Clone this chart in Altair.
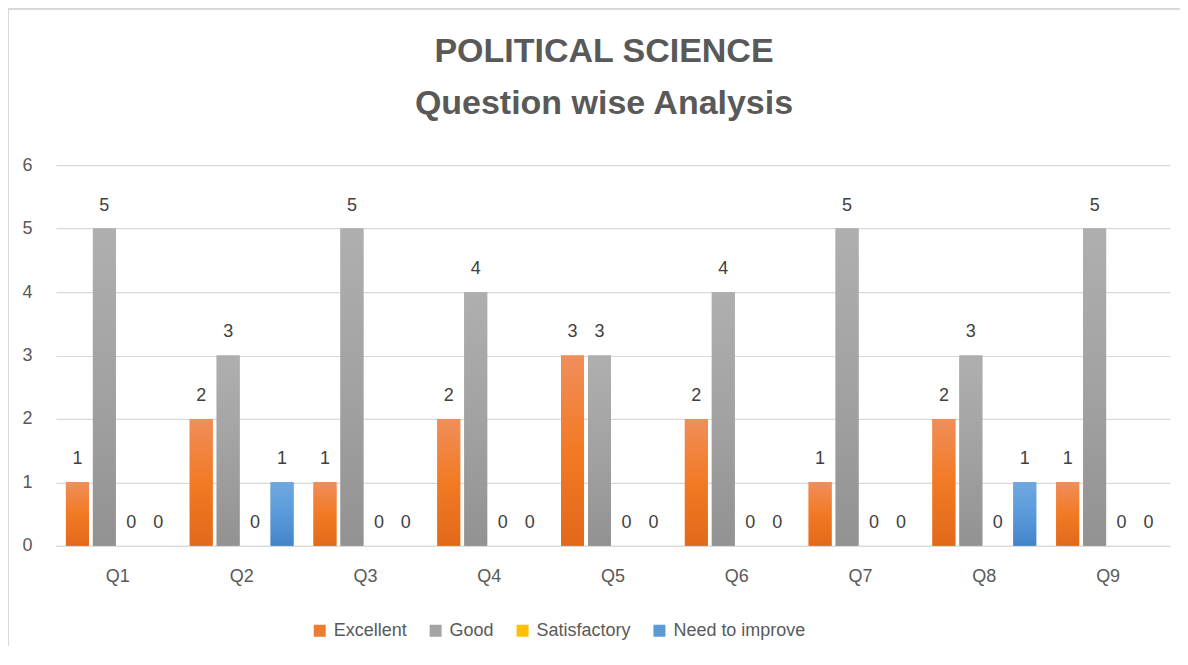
import altair as alt
import pandas as pd

questions = ["Q1", "Q2", "Q3", "Q4", "Q5", "Q6", "Q7", "Q8", "Q9"]
series = ["Excellent", "Good", "Satisfactory", "Need to improve"]
excellent = [1, 2, 1, 2, 3, 2, 1, 2, 1]
good = [5, 3, 5, 4, 3, 4, 5, 3, 5]
satisfactory = [0, 0, 0, 0, 0, 0, 0, 0, 0]
need_to_improve = [0, 1, 0, 0, 0, 0, 0, 1, 0]
y_ticks = [0, 1, 2, 3, 4, 5, 6]

flat_colors = ["#ED7D31", "#A5A5A5", "#FFC000", "#5B9BD5"]
gradients = {
    "Excellent": ["#F08E5A", "#F27A24", "#E2691A"],
    "Good": ["#AFAFAF", "#A2A2A2", "#929292"],
    "Satisfactory": ["#FFCB40", "#FFC20A", "#EDB300"],
    "Need to improve": ["#6FA8DF", "#5A9ADB", "#4384C9"],
}

values = [excellent, good, satisfactory, need_to_improve]
rows = []
for s, vals in zip(series, values):
    for q, v in zip(questions, vals):
        rows.append({"q": q, "series": s, "value": v})
df = pd.DataFrame(rows)

FONT = "Liberation Sans"
TXT = "#595959"
GRID = "#D9D9D9"

base = alt.Chart(df).encode(
    x=alt.X(
        "q:N",
        sort=questions,
        scale=alt.Scale(paddingInner=0, paddingOuter=0),
        axis=alt.Axis(
            title=None, labelAngle=0, ticks=False, domainColor=GRID,
            labelFontSize=18, labelColor=TXT, labelFont=FONT, labelPadding=22,
        ),
    ),
    xOffset=alt.XOffset(
        "series:N",
        sort=series,
        scale=alt.Scale(domain=series, paddingInner=4 / 27, paddingOuter=0.37),
    ),
    y=alt.Y(
        "value:Q",
        scale=alt.Scale(domain=[0, 6], nice=False),
        axis=alt.Axis(
            title=None, values=y_ticks, ticks=False, domain=False,
            gridColor=GRID, gridWidth=1.2, labelFontSize=18, labelColor=TXT,
            labelFont=FONT, labelPadding=24,
        ),
    ),
)

legend_bars = base.mark_bar().encode(
    color=alt.Color(
        "series:N",
        sort=series,
        scale=alt.Scale(domain=series, range=flat_colors),
        legend=alt.Legend(
            title=None, orient="none", direction="horizontal",
            legendX=255, legendY=457, symbolType="square", symbolSize=144,
            symbolStrokeWidth=0, labelFontSize=18, labelColor=TXT,
            labelFont=FONT, labelOffset=5, columnPadding=19, padding=0,
        ),
    )
)

layers = [legend_bars]
for s in series:
    st = gradients[s]
    grad = {
        "gradient": "linear",
        "x1": 0, "x2": 0, "y1": 0, "y2": 1,
        "stops": [
            {"offset": 0, "color": st[0]},
            {"offset": 0.5, "color": st[1]},
            {"offset": 1, "color": st[2]},
        ],
    }
    layers.append(
        base.mark_bar(fill=grad).transform_filter(alt.datum.series == s)
    )

labels = base.mark_text(
    baseline="alphabetic", dy=-18, fontSize=18, color="#404040", font=FONT
).encode(text="value:Q")
layers.append(labels)

border_top = alt.Chart(df).mark_rule(color=GRID, strokeWidth=1).encode(
    x=alt.value(-47.5), x2=alt.value(1125), y=alt.value(-156), y2=alt.value(-156)
)
border_left = alt.Chart(df).mark_rule(color=GRID, strokeWidth=1).encode(
    x=alt.value(-47.5), y=alt.value(-156), y2=alt.value(500)
)
layers = [border_top, border_left] + layers

chart = alt.layer(*layers).properties(
    width=1115,
    height=381,
    autosize=alt.AutoSizeParams(type="none"),
    padding={"left": 48, "top": 157, "right": 10, "bottom": 100},
    title=alt.TitleParams(
        text=["POLITICAL SCIENCE", "Question wise Analysis"],
        fontSize=34, font=FONT, fontWeight="bold", color=TXT,
        lineHeight=52, anchor="middle", frame="group", offset=0, dx=-9, dy=112,
    ),
).configure_view(stroke=None)

chart.save("out.html", embed_options={"renderer": "svg", "actions": False})
